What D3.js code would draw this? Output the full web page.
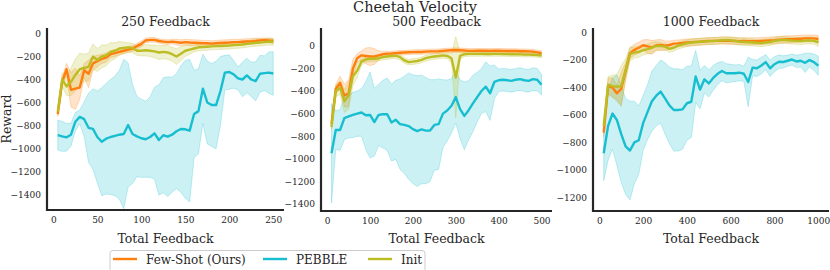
<!DOCTYPE html>
<html>
<head>
<meta charset="utf-8">
<script src="https://cdn.jsdelivr.net/npm/d3@7"></script>
<style>
  body { margin: 0; background: #fff; }
  svg { display: block; font-family: "DejaVu Serif", serif; }
</style>
</head>
<body>
<svg id="chart" width="830" height="270"></svg>
<script>
// ---- data ----
const seriesNames = ["Few-Shot (Ours)", "PEBBLE", "Init"];

// 250 feedback panel
const feedback250 = [5,10,15,20,25,30,35,40,45,50,55,60,65,70,75,80,85,90,95,100,105,110,115,120,125,130,135,140,145,150,155,160,165,170,175,180,185,190,195,200,205,210,215,220,225,230,235,240,245,250];
const fewShot250 = [-700,-420,-310,-490,-480,-470,-320,-350,-260,-240,-220,-210,-180,-170,-160,-150,-140,-130,-110,-90,-60,-55,-55,-65,-70,-75,-70,-75,-80,-75,-78,-80,-82,-85,-85,-88,-85,-82,-80,-78,-75,-75,-72,-70,-68,-65,-60,-58,-60,-65];
const fewShotSpread250 = [20,40,50,150,180,100,60,120,60,50,40,40,30,30,25,25,25,25,25,25,20,20,20,20,20,20,20,25,25,25,25,25,25,25,25,25,25,25,25,25,25,25,25,25,25,25,20,20,20,20];
const pebble250 = [-883,-895,-903,-880,-767,-725,-745,-820,-830,-900,-941,-915,-900,-890,-880,-874,-796,-874,-895,-911,-920,-900,-868,-926,-885,-897,-880,-850,-830,-833,-845,-700,-675,-480,-600,-622,-622,-500,-340,-335,-355,-390,-400,-365,-400,-415,-350,-345,-340,-348];
const pebbleSpread250 = [130,130,120,100,80,60,150,300,350,400,470,480,500,520,560,650,540,430,350,340,330,350,400,480,500,520,500,500,550,600,620,380,370,300,360,360,380,300,150,150,120,100,150,150,150,170,160,150,180,190];
const init250 = [-680,-400,-460,-420,-360,-310,-300,-290,-200,-230,-200,-190,-160,-150,-130,-125,-120,-125,-150,-150,-145,-150,-155,-165,-160,-165,-180,-200,-175,-150,-140,-130,-120,-118,-115,-112,-110,-108,-106,-105,-100,-98,-95,-90,-85,-80,-78,-75,-70,-72];
const initSpread250 = [30,60,80,120,140,140,120,120,110,100,100,90,80,70,60,50,40,40,40,45,50,50,55,60,60,60,60,70,60,50,40,30,30,30,30,30,30,30,30,30,30,30,30,30,30,30,30,30,30,30];

// 500 feedback panel
const feedback500 = [10,20,30,40,50,60,70,80,90,100,110,120,130,140,150,160,170,180,190,200,210,220,230,240,250,260,270,280,290,300,310,320,330,340,350,360,370,380,390,400,410,420,430,440,450,460,470,480,490,500];
const fewShot500 = [-690,-380,-330,-440,-420,-200,-110,-85,-90,-95,-95,-85,-75,-70,-68,-65,-62,-60,-58,-56,-55,-55,-52,-50,-50,-48,-45,-42,-40,-38,-40,-42,-45,-45,-44,-44,-44,-45,-44,-44,-45,-46,-46,-47,-48,-48,-50,-52,-58,-65];
const fewShotSpread500 = [20,40,60,100,120,80,40,40,70,80,70,40,25,20,20,20,20,20,20,20,20,20,20,20,20,20,20,20,20,20,20,20,20,20,20,20,20,20,20,20,20,20,20,20,20,20,20,20,20,20];
const pebble500 = [-950,-745,-745,-640,-625,-612,-600,-590,-615,-612,-675,-612,-605,-605,-679,-655,-693,-700,-710,-737,-755,-740,-750,-750,-700,-693,-600,-573,-530,-454,-560,-620,-570,-510,-454,-400,-362,-420,-320,-305,-300,-305,-310,-300,-295,-305,-310,-295,-300,-345];
const pebbleSpread500 = [440,170,180,190,190,200,200,210,300,380,300,270,300,320,340,350,400,430,470,480,490,480,470,450,400,400,300,270,240,230,260,300,260,250,220,200,220,240,150,100,100,100,100,100,100,100,100,100,100,90];
const init500 = [-720,-400,-370,-490,-440,-270,-220,-140,-120,-115,-115,-110,-100,-95,-90,-88,-100,-130,-145,-140,-135,-125,-110,-100,-95,-90,-85,-90,-110,-280,-90,-75,-72,-72,-72,-72,-73,-73,-72,-72,-73,-74,-75,-75,-76,-78,-78,-80,-82,-86];
const initSpread500 = [20,50,60,100,120,80,60,30,25,25,25,25,25,25,25,25,25,25,25,25,25,25,25,25,25,25,25,25,40,360,30,20,20,20,20,20,20,20,20,20,20,20,20,20,20,20,20,20,20,20];

// 1000 feedback panel
const feedback1000 = [20,40,60,80,100,120,140,160,180,200,220,240,260,280,300,320,340,360,380,400,420,440,460,480,500,520,540,560,580,600,620,640,660,680,700,720,740,760,780,800,820,840,860,880,900,920,940,960,980,1000];
const fewShot1000 = [-730,-390,-400,-442,-410,-280,-150,-125,-110,-92,-100,-108,-92,-90,-95,-90,-80,-78,-75,-72,-70,-68,-66,-63,-61,-60,-60,-58,-60,-60,-61,-62,-60,-62,-63,-62,-60,-58,-56,-55,-52,-50,-48,-48,-46,-44,-42,-42,-42,-46];
const fewShotSpread1000 = [30,60,70,60,120,60,40,40,40,40,50,50,40,40,35,30,25,25,25,25,25,25,25,25,25,25,25,25,25,25,25,25,25,25,25,25,25,25,25,25,25,25,25,25,25,25,25,25,25,25];
const pebble1000 = [-880,-680,-590,-637,-740,-830,-860,-800,-785,-660,-580,-500,-460,-430,-480,-530,-564,-564,-560,-515,-504,-320,-415,-340,-370,-330,-300,-280,-296,-296,-296,-292,-300,-360,-255,-260,-240,-215,-260,-230,-212,-214,-205,-196,-210,-205,-220,-200,-215,-241];
const pebbleSpread1000 = [200,250,260,330,350,350,360,300,250,200,200,220,220,230,260,280,300,300,290,270,260,190,140,100,100,90,80,70,70,65,60,60,55,180,60,60,60,55,60,55,50,45,40,40,45,45,70,50,60,70];
const init1000 = [-680,-380,-390,-395,-390,-270,-155,-145,-140,-128,-120,-110,-96,-98,-102,-118,-110,-95,-85,-77,-72,-68,-66,-64,-62,-61,-58,-55,-53,-55,-60,-66,-68,-70,-72,-74,-77,-72,-68,-60,-55,-53,-55,-58,-60,-62,-58,-56,-60,-70];
const initSpread1000 = [40,60,80,90,150,80,50,40,40,35,35,40,30,25,25,25,25,25,25,25,25,25,25,25,25,25,25,25,25,25,25,25,25,25,25,25,25,25,25,25,25,25,25,25,25,25,25,25,25,30];

// tick labels
const xTicks250 = [0, 50, 100, 150, 200, 250];
const xTicks500 = [0, 100, 200, 300, 400, 500];
const xTicks1000 = [0, 200, 400, 600, 800, 1000];
const yTicks250 = [-1400, -1200, -1000, -800, -600, -400, -200, 0];
const yTicks500 = [-1400, -1200, -1000, -800, -600, -400, -200, 0];
const yTicks1000 = [-1200, -1000, -800, -600, -400, -200, 0];

// ---- layout ----
const colors = ["#ff7f0e", "#17becf", "#bcbd22"];
const svg = d3.select("#chart");
const ink = "#262626";
const fmt = d3.format("d");

const panels = [
  { title: "250 Feedback", x: feedback250, left: 47, right: 284, top: 28, bottom: 210,
    xDomain: [-7.25, 262.25], yDomain: [-1535, 48], xTicks: xTicks250, yTicks: yTicks250,
    means: [fewShot250, pebble250, init250], spreads: [fewShotSpread250, pebbleSpread250, initSpread250] },
  { title: "500 Feedback", x: feedback500, left: 321, right: 552, top: 28, bottom: 211,
    xDomain: [-14.5, 524.5], yDomain: [-1461, 157], xTicks: xTicks500, yTicks: yTicks500,
    means: [fewShot500, pebble500, init500], spreads: [fewShotSpread500, pebbleSpread500, initSpread500] },
  { title: "1000 Feedback", x: feedback1000, left: 593, right: 829, top: 28, bottom: 211,
    xDomain: [-29, 1049], yDomain: [-1301, 34], xTicks: xTicks1000, yTicks: yTicks1000,
    means: [fewShot1000, pebble1000, init1000], spreads: [fewShotSpread1000, pebbleSpread1000, initSpread1000] }
];

panels.forEach(p => {
  const x = d3.scaleLinear().domain(p.xDomain).range([p.left, p.right]);
  const y = d3.scaleLinear().domain(p.yDomain).range([p.bottom, p.top]);
  const g = svg.append("g");

  // bands
  p.means.forEach((m, s) => {
    const pts = p.x.map((v, i) => ({ x: v, m: m[i], sd: p.spreads[s][i] }));
    const area = d3.area()
      .x(d => x(d.x))
      .y0(d => y(d.m - d.sd))
      .y1(d => y(d.m + d.sd));
    g.append("path")
      .datum(pts)
      .attr("d", area)
      .attr("fill", colors[s])
      .attr("fill-opacity", 0.22)
      .attr("stroke", colors[s])
      .attr("stroke-opacity", 0.25)
      .attr("stroke-width", 1);
  });

  // mean lines
  p.means.forEach((m, s) => {
    const pts = p.x.map((v, i) => ({ x: v, m: m[i] }));
    const line = d3.line().x(d => x(d.x)).y(d => y(d.m));
    g.append("path")
      .datum(pts)
      .attr("d", line)
      .attr("fill", "none")
      .attr("stroke", colors[s])
      .attr("stroke-width", 2.4)
      .attr("stroke-linejoin", "round");
  });

  // axes (labels only, seaborn-white style)
  const xAxis = g.append("g")
    .attr("transform", `translate(0,${p.bottom})`)
    .call(d3.axisBottom(x).tickValues(p.xTicks).tickFormat(fmt).tickSize(0).tickPadding(7));
  const yAxis = g.append("g")
    .attr("transform", `translate(${p.left},0)`)
    .call(d3.axisLeft(y).tickValues(p.yTicks).tickFormat(fmt).tickSize(0).tickPadding(6));
  [xAxis, yAxis].forEach(a => {
    a.select(".domain").remove();
    a.selectAll("text")
      .attr("font-family", "DejaVu Serif")
      .attr("font-size", 9)
      .attr("fill", ink);
  });

  // spines
  g.append("line").attr("x1", p.left).attr("x2", p.left).attr("y1", p.top).attr("y2", p.bottom + 1)
    .attr("stroke", ink).attr("stroke-width", 2.2);
  g.append("line").attr("x1", p.left - 1).attr("x2", p.right).attr("y1", p.bottom).attr("y2", p.bottom)
    .attr("stroke", ink).attr("stroke-width", 2.2);

  // titles
  g.append("text")
    .attr("x", (p.left + p.right) / 2).attr("y", 26)
    .attr("text-anchor", "middle").attr("font-size", 12.5).attr("fill", ink)
    .text(p.title);
  g.append("text")
    .attr("x", (p.left + p.right) / 2).attr("y", 243)
    .attr("text-anchor", "middle").attr("font-size", 12.5).attr("fill", ink)
    .text("Total Feedback");
});

// super title and y label
svg.append("text")
  .attr("x", 415).attr("y", 12)
  .attr("text-anchor", "middle").attr("font-size", 14.5).attr("fill", ink)
  .text("Cheetah Velocity");
svg.append("text")
  .attr("transform", "translate(11,119) rotate(-90)")
  .attr("text-anchor", "middle").attr("font-size", 12.5).attr("fill", ink)
  .text("Reward");

// legend
const legend = svg.append("g");
legend.append("rect")
  .attr("x", 110).attr("y", 250.5).attr("width", 315).attr("height", 22).attr("rx", 3)
  .attr("fill", "#fff").attr("fill-opacity", 0.8)
  .attr("stroke", "#cccccc").attr("stroke-width", 1);
const legendX = [113, 263, 368];
seriesNames.forEach((name, i) => {
  legend.append("line")
    .attr("x1", legendX[i]).attr("x2", legendX[i] + 24)
    .attr("y1", 259).attr("y2", 259)
    .attr("stroke", colors[i]).attr("stroke-width", 2.4);
  legend.append("text")
    .attr("x", legendX[i] + 33).attr("y", 263.5)
    .attr("font-size", 12).attr("fill", ink)
    .text(name);
});
</script>
</body>
</html>
